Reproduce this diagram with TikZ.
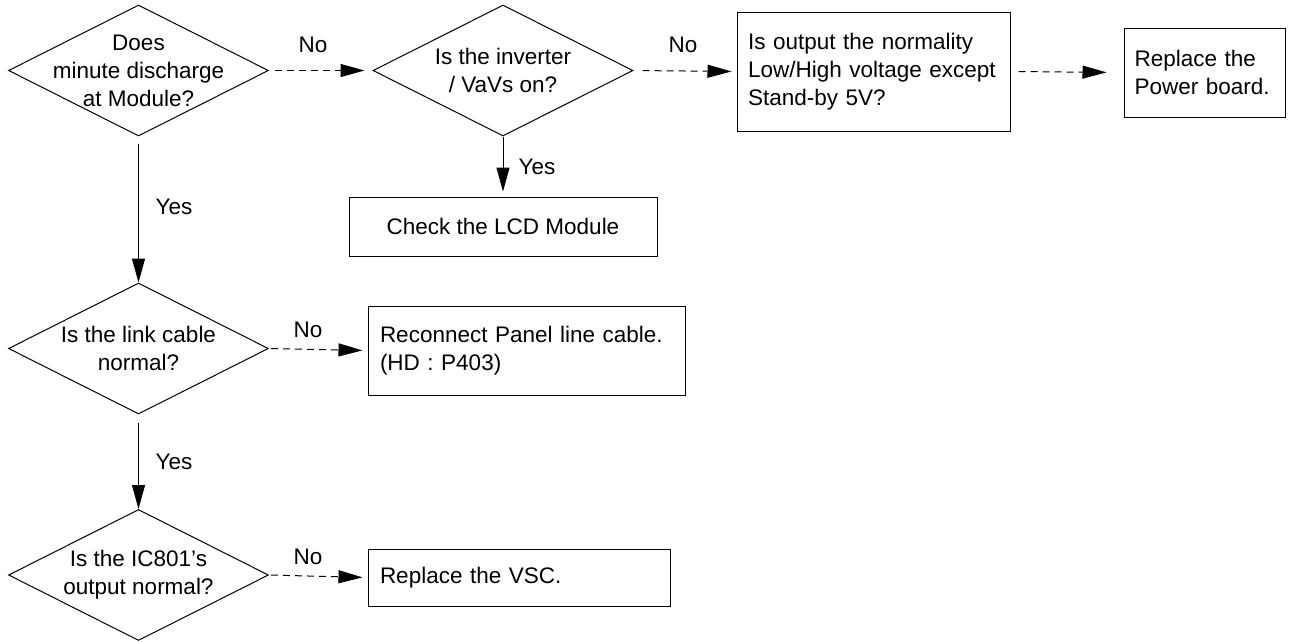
\documentclass[tikz,border=0pt]{standalone}
\usepackage{fontspec}
\setmainfont{Liberation Sans}
\usetikzlibrary{shapes.geometric,arrows.meta}
\begin{document}
\begin{tikzpicture}[x=1pt,y=-1pt,
  every node/.style={font=\fontsize{22.5}{28}\selectfont},
  dia/.style={draw, diamond, inner sep=0pt, line width=1pt, minimum width=260pt, minimum height=131pt},
  txt/.style={align=center, inner sep=0pt},
  boxl/.style={draw, rectangle, line width=1pt, align=left, inner ysep=0pt},
  boxc/.style={draw, rectangle, line width=1pt, align=center, inner sep=0pt},
  lbl/.style={inner sep=0pt},
  solidarrow/.style={line width=1pt, -{Triangle[length=24pt,width=13pt]}},
  dasharrow/.style={line width=1pt, dash pattern=on 7pt off 5pt, -{Triangle[length=24pt,width=13pt]}}
]
\useasboundingbox (0,0) rectangle (1296,641);

% decisions
\node[dia] (d1) at (138.5,70.5) {};
\node[txt] (t1) at (d1.center) {Does\\minute discharge\\at Module?};
\node[dia] (d2) at (503,70.5) {};
\node[txt] (t2) at (d2.center) {Is the inverter\\/ VaVs on?};
\node[dia] (d3) at (138.5,348.5) {};
\node[txt] (t3) at (d3.center) {Is the link cable\\normal?};
\node[dia] (d4) at (138.5,575) {};
\node[txt] (t4) at (d4.center) {Is the IC801's\\output normal?};

% boxes
\node[boxl, minimum width=273pt, minimum height=119pt, text width=251pt, inner xsep=11pt] (b3) at (873.5,71.5)
  {Is output the normality\\Low/High voltage except\\Stand-by 5V?};
\node[boxl, minimum width=161pt, minimum height=89pt, text width=140pt, inner xsep=10.5pt] (b4) at (1204.5,72.5)
  {Replace the\\Power board.};
\node[boxc, minimum width=308pt, minimum height=59pt] (lcd) at (503,226.5) {Check the LCD Module};
\node[boxl, minimum width=317pt, minimum height=89pt, text width=293pt, inner xsep=12pt] (b5) at (526.5,350.5)
  {Reconnect Panel line cable.\\(HD : P403)};
\node[boxl, minimum width=302pt, minimum height=57pt, text width=278pt, inner xsep=12pt] (b6) at (519,577.5)
  {Replace the VSC.};

% connectors
\draw[dasharrow, shorten <=6pt, shorten >=8pt] (d1.east) -- (d2.west);
\node[lbl] (n1) at (313,45) {No};
\draw[dasharrow, shorten <=9pt, shorten >=5pt] (d2.east) -- (b3.west);
\node[lbl] (n2) at (683,45) {No};
\draw[dasharrow, shorten <=8pt, shorten >=17pt] (b3.east) -- (b4.west);
\draw[solidarrow, shorten >=5pt] (d2.south) -- (lcd.north);
\node[lbl] (y2) at (537,167) {Yes};
\draw[solidarrow, shorten <=7pt] (d1.south) -- (d3.north);
\node[lbl] (y1) at (174,207) {Yes};
\draw[dasharrow, shorten <=2pt, shorten >=5pt] (d3.east) -- (b5.west);
\node[lbl] (n3) at (308,330) {No};
\draw[solidarrow, shorten <=8pt] (d3.south) -- (d4.north);
\node[lbl] (y3) at (174,462) {Yes};
\draw[dasharrow, shorten <=2pt, shorten >=5pt] (d4.east) -- (b6.west);
\node[lbl] (n4) at (308,557) {No};
\end{tikzpicture}
\end{document}
